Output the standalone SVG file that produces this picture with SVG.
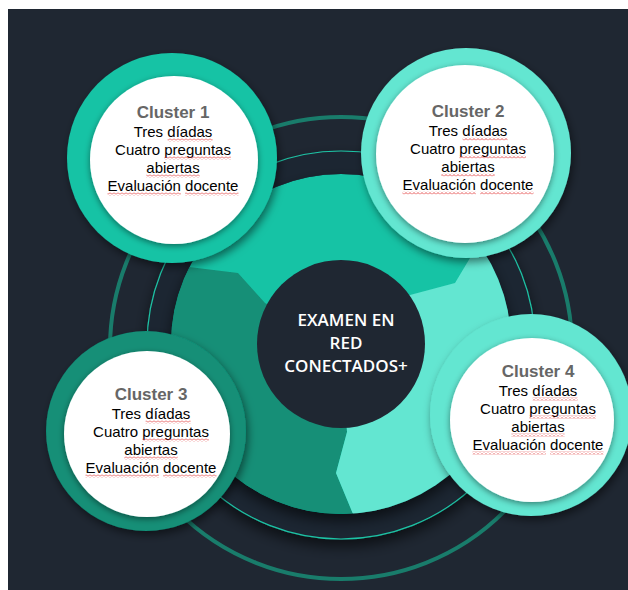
<svg xmlns="http://www.w3.org/2000/svg" width="628" height="590" viewBox="0 0 628 590">
  <defs>
    <style>
      .title { font-family: "Liberation Sans", Arial, sans-serif; font-weight: bold; font-size: 17px; fill: #666666; text-anchor: middle; }
      .body { font-family: "Liberation Sans", Arial, sans-serif; font-size: 15px; fill: #000000; text-anchor: middle; }
      .ctr { font-family: "Open Sans", "Liberation Sans", sans-serif; font-weight: 600; font-size: 17px; fill: #ffffff; text-anchor: middle; }
      .white { fill: #ffffff; filter: url(#shw); }
      .sq { fill: url(#sq); }
    </style>
    <pattern id="sq" width="4" height="3" patternUnits="userSpaceOnUse">
      <path d="M0,2.5 L2,0.5 L4,2.5" fill="none" stroke="#e02a2a" stroke-width="0.8"/>
    </pattern>
    <filter id="sh" x="-30%" y="-30%" width="160%" height="160%">
      <feDropShadow dx="2" dy="4" stdDeviation="4" flood-color="#000" flood-opacity="0.5"/>
    </filter>
    <filter id="shw" x="-30%" y="-30%" width="160%" height="160%">
      <feDropShadow dx="0" dy="2" stdDeviation="3" flood-color="#000" flood-opacity="0.45"/>
    </filter>
    <filter id="shp" x="-30%" y="-30%" width="160%" height="160%">
      <feDropShadow dx="0" dy="7" stdDeviation="7" flood-color="#000" flood-opacity="0.6"/>
    </filter>
    <clipPath id="pieclip">
      <circle cx="341" cy="344" r="170"/>
    </clipPath>
  </defs>

  <rect x="0" y="0" width="628" height="590" fill="#ffffff"/>
  <rect x="8" y="9" width="620" height="581" fill="#1f2732"/>

  <g id="rings">
    <circle cx="341" cy="348" r="231" fill="none" stroke="#197c6b" stroke-width="4"/>
    <circle cx="341" cy="345" r="194" fill="#1f2732" stroke="#1fc4a6" stroke-width="1.2" filter="url(#shp)"/>
  </g>

  <g id="pie" filter="url(#shp)">
    <g clip-path="url(#pieclip)">
      <circle cx="341" cy="344" r="170" fill="#17c3a5"/>
      <polygon fill="#128f77" points="341,344 265,303 238,273 189,267 150,262 60,262 60,600 362,600 362,536 353,514 336,473 347,432"/>
      <polygon fill="#63e6d1" points="341,344 410,295 455,283 467,263 485,233 620,233 620,600 362,600 362,536 353,514 336,473 347,432"/>
    </g>
  </g>

  <g id="center">
    <circle cx="341" cy="344" r="84" fill="#1f2732"/>
    <text class="ctr" x="346" y="326">EXAMEN EN</text>
    <text class="ctr" x="346" y="349">RED</text>
    <text class="ctr" x="346" y="372">CONECTADOS+</text>
  </g>

  <g id="cluster3">
    <circle cx="146" cy="431" r="100" fill="#128f77" filter="url(#sh)"/>
    <circle class="white" cx="147" cy="434" r="83"/>
    <text class="title" x="151" y="400">Cluster 3</text>
    <text class="body" x="151" y="419">Tres díadas</text>
    <text class="body" x="151" y="437">Cuatro preguntas</text>
    <text class="body" x="151" y="455">abiertas</text>
    <text class="body" x="151" y="473">Evaluación docente</text>
    <rect class="sq" x="145.6" y="420.5" width="45" height="3"/>
    <rect class="sq" x="142.3" y="438.5" width="66.6" height="3"/>
    <rect class="sq" x="124.3" y="456.5" width="53.4" height="3"/>
    <rect class="sq" x="85.5" y="474.5" width="73.4" height="3"/>
    <rect class="sq" x="163.1" y="474.5" width="53.4" height="3"/>
  </g>

  <g id="cluster4">
    <circle cx="531" cy="415" r="101" fill="#63e6d1" filter="url(#sh)"/>
    <circle class="white" cx="532" cy="420" r="82"/>
    <text class="title" x="538" y="377">Cluster 4</text>
    <text class="body" x="538" y="396">Tres díadas</text>
    <text class="body" x="538" y="414">Cuatro preguntas</text>
    <text class="body" x="538" y="432">abiertas</text>
    <text class="body" x="538" y="450">Evaluación docente</text>
    <rect class="sq" x="532.6" y="397.5" width="45" height="3"/>
    <rect class="sq" x="529.3" y="415.5" width="66.6" height="3"/>
    <rect class="sq" x="511.3" y="433.5" width="53.4" height="3"/>
    <rect class="sq" x="472.5" y="451.5" width="73.4" height="3"/>
    <rect class="sq" x="550.1" y="451.5" width="53.4" height="3"/>
  </g>

  <g id="cluster1">
    <circle cx="172" cy="158" r="105" fill="#17c3a5" filter="url(#sh)"/>
    <circle class="white" cx="174" cy="160" r="84"/>
    <text class="title" x="173" y="118">Cluster 1</text>
    <text class="body" x="173" y="137">Tres díadas</text>
    <text class="body" x="173" y="155">Cuatro preguntas</text>
    <text class="body" x="173" y="173">abiertas</text>
    <text class="body" x="173" y="191">Evaluación docente</text>
    <rect class="sq" x="167.6" y="138.5" width="45" height="3"/>
    <rect class="sq" x="164.3" y="156.5" width="66.6" height="3"/>
    <rect class="sq" x="146.3" y="174.5" width="53.4" height="3"/>
    <rect class="sq" x="107.5" y="192.5" width="73.4" height="3"/>
    <rect class="sq" x="185.1" y="192.5" width="53.4" height="3"/>
  </g>

  <g id="cluster2">
    <circle cx="466" cy="153" r="105" fill="#63e6d1" filter="url(#sh)"/>
    <circle class="white" cx="465" cy="154" r="89"/>
    <text class="title" x="468" y="117">Cluster 2</text>
    <text class="body" x="468" y="136">Tres díadas</text>
    <text class="body" x="468" y="154">Cuatro preguntas</text>
    <text class="body" x="468" y="172">abiertas</text>
    <text class="body" x="468" y="190">Evaluación docente</text>
    <rect class="sq" x="462.6" y="137.5" width="45" height="3"/>
    <rect class="sq" x="459.3" y="155.5" width="66.6" height="3"/>
    <rect class="sq" x="441.3" y="173.5" width="53.4" height="3"/>
    <rect class="sq" x="402.5" y="191.5" width="73.4" height="3"/>
    <rect class="sq" x="480.1" y="191.5" width="53.4" height="3"/>
  </g>
</svg>
